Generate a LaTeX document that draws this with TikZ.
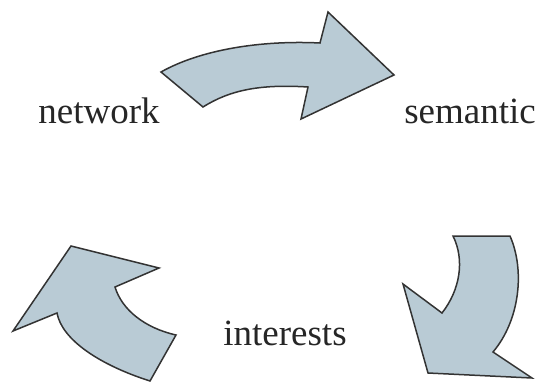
\documentclass[tikz,border=0pt]{standalone}
\usepackage{fontspec}
\setmainfont{Liberation Serif}
\usetikzlibrary{positioning}

\definecolor{arrowfill}{HTML}{B9CBD5}
\definecolor{arrowline}{HTML}{333333}

\begin{document}
\begin{tikzpicture}[
  x=1pt, y=-1pt,
  font=\fontsize{37}{40}\selectfont,
  bigarrow/.style={
    fill=arrowfill,
    draw=arrowline, line width=1.5pt,
    line join=miter
  },
  word/.style={
    inner sep=0pt,
    anchor=base,
    text=black!85
  }
]
\useasboundingbox (0,0) rectangle (540,381);

% Labels
\node[word] (network) at (99,123) {network};
\node[word] (semantic) at (470,123) {semantic};
\node[word] (interests) at (285,345) {interests};

% Top arrow: network -> semantic
\draw[bigarrow] (161,72) .. controls (200,50) and (260,40) .. (320,43)
  -- (328,12) -- (394,75) -- (301,119) -- (308,87)
  .. controls (260,84) and (230,90) .. (203,107) -- cycle;

% Right arrow: semantic -> interests
\draw[bigarrow] (453,236) -- (510,236)
  .. controls (525,270) and (520,320) .. (493,352)
  -- (532,378) -- (428,373) -- (403,284) -- (442,313)
  .. controls (460,290) and (465,260) .. (453,236) -- cycle;

% Left arrow: interests -> network
\draw[bigarrow] (71,246) -- (159,268) -- (115,287)
  .. controls (122,310) and (145,328) .. (176,335)
  -- (150,381)
  .. controls (100,365) and (62,340) .. (57,313)
  -- (13,331) -- cycle;

\end{tikzpicture}
\end{document}
